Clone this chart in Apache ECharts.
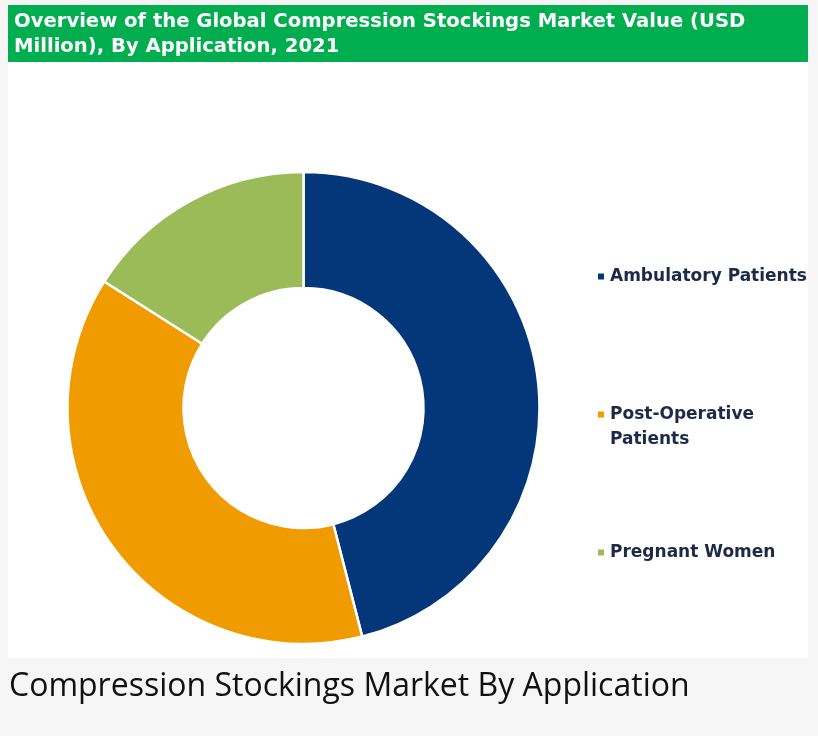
<!DOCTYPE html>
<html>
<head>
<meta charset="utf-8">
<script src="https://cdn.jsdelivr.net/npm/echarts@6/dist/echarts.min.js"></script>
<style>
    html, body { margin: 0; padding: 0; background: #f6f6f6; }
    #main { width: 818px; height: 736px; }
</style>
</head>
<body>
<div id="main"></div>
<script>
    // 数据
    let categories = ['Ambulatory Patients', 'Post-Operative Patients', 'Pregnant Women'];
    let shares = [46.0, 38.0, 16.0];
    let colors = ['#03377a', '#f09b00', '#9bbb59'];
    let legendTops = [264, 377, 540];

    let myChart = echarts.init(document.getElementById('main'));

    let boldFont = '"DejaVu Sans", sans-serif';
    let legends = categories.map((name, i) => {
        return {
            data: [name],
            orient: 'vertical',
            left: 596,
            top: legendTops[i],
            padding: 0,
            icon: 'rect',
            itemWidth: 8,
            itemHeight: 8,
            selectedMode: false,
            // 第二项换行，首行与图例标记对齐
            formatter: (n) => n === 'Post-Operative Patients' ? '\nPost-Operative\nPatients' : n,
            textStyle: {
                color: '#1c2a48',
                fontFamily: boldFont,
                fontWeight: 'bold',
                fontSize: 17,
                lineHeight: 25
            }
        };
    });

    let option = {
        backgroundColor: '#f6f6f6',
        graphic: [
            {type: 'rect', shape: {x: 8, y: 5, width: 800, height: 653}, style: {fill: '#ffffff'}, z: -10},
            {type: 'rect', shape: {x: 8, y: 5, width: 800, height: 57}, style: {fill: '#00ae4f'}, z: -9}
        ],
        title: [{
            text: 'Overview of the Global Compression Stockings Market Value (USD\nMillion), By Application, 2021',
            left: 14,
            top: 9,
            padding: 0,
            textStyle: {
                color: '#ffffff',
                fontFamily: boldFont,
                fontWeight: 'bold',
                fontSize: 19.6,
                lineHeight: 25
            }
        }, {
            text: 'Compression Stockings Market By Application',
            left: 9,
            top: 666,
            padding: 0,
            textStyle: {
                color: '#111111',
                fontFamily: '"Open Sans", sans-serif',
                fontWeight: 'normal',
                fontSize: 32,
                lineHeight: 42
            }
        }],
        legend: legends,
        series: [{
            type: 'pie',
            center: [303.5, 408],
            radius: [120, 236],
            startAngle: 90,
            clockwise: true,
            label: {show: false},
            labelLine: {show: false},
            silent: true,
            itemStyle: {borderColor: '#ffffff', borderWidth: 2.5},
            data: categories.map((name, i) => {
                return {name: name, value: shares[i], itemStyle: {color: colors[i]}};
            })
        }]
    };
    myChart.setOption(option);
</script>
</body>
</html>
